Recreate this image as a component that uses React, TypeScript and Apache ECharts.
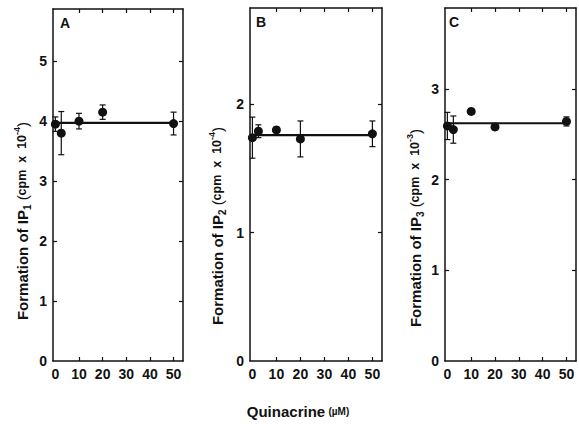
import React, { useEffect, useRef } from "react";
import * as echarts from "echarts";

const concentrations = [0, 2.5, 10, 20, 50];
const xTicks = [0, 10, 20, 30, 40, 50];

const ip1Values = [3.95, 3.8, 4.0, 4.15, 3.96];
const ip1Errors = [0.12, 0.36, 0.13, 0.12, 0.19];
const ip1Fit = 3.97;
const ip1Ticks = [0, 1, 2, 3, 4, 5];

const ip2Values = [1.74, 1.79, 1.8, 1.73, 1.77];
const ip2Errors = [0.16, 0.05, 0.02, 0.14, 0.1];
const ip2Fit = 1.76;
const ip2Ticks = [0, 1, 2];

const ip3Values = [2.59, 2.55, 2.75, 2.58, 2.64];
const ip3Errors = [0.15, 0.15, 0.03, 0.03, 0.05];
const ip3Fit = 2.62;
const ip3Ticks = [0, 1, 2, 3];

const panels = [
  { letter: "A", sub: "1", exp: "-4", values: ip1Values, errors: ip1Errors, fit: ip1Fit, ticks: ip1Ticks, yMax: 5.87,
    grid: { left: 53, top: 9, width: 130, height: 352 }, letterPos: [60, 23], titlePos: [22, 221] },
  { letter: "B", sub: "2", exp: "-4", values: ip2Values, errors: ip2Errors, fit: ip2Fit, ticks: ip2Ticks, yMax: 2.75,
    grid: { left: 250, top: 8, width: 132, height: 353 }, letterPos: [256, 22], titlePos: [217, 226] },
  { letter: "C", sub: "3", exp: "-3", values: ip3Values, errors: ip3Errors, fit: ip3Fit, ticks: ip3Ticks, yMax: 3.89,
    grid: { left: 445, top: 8, width: 131, height: 353 }, letterPos: [449, 22], titlePos: [415, 228] },
];

const FONT = "'Liberation Sans', Arial, Helvetica, sans-serif";
const INK = "#111";

export default function App() {
  const ref = useRef<HTMLDivElement>(null);
  useEffect(() => {
    if (!ref.current) return;
    const chart = echarts.init(ref.current, null, { renderer: "svg" });
    const grids: any[] = [];
    const xAxes: any[] = [];
    const yAxes: any[] = [];
    const series: any[] = [];
    const graphics: any[] = [];

    panels.forEach((p, i) => {
      grids.push({ ...p.grid, show: false, containLabel: false });
      const xCommon = {
        type: "value", gridIndex: i, min: -1, max: 54,
        splitLine: { show: false },
        axisLine: { show: true, onZero: false, lineStyle: { color: INK, width: 1.5 } },
        axisTick: { show: true, inside: true, length: 4, customValues: xTicks.filter((t) => t > 0), lineStyle: { color: INK, width: 1.2 } },
      };
      xAxes.push({
        ...xCommon, position: "bottom",
        axisLabel: { show: true, customValues: xTicks, margin: 6, fontSize: 14, fontWeight: "bold", color: INK, fontFamily: FONT },
      });
      xAxes.push({ ...xCommon, position: "top", axisLabel: { show: false } });
      const yCommon = {
        type: "value", gridIndex: i, min: 0, max: p.yMax,
        splitLine: { show: false },
        axisLine: { show: true, onZero: false, lineStyle: { color: INK, width: 1.5 } },
        axisTick: { show: true, inside: true, length: 4, customValues: p.ticks.filter((t) => t > 0), lineStyle: { color: INK, width: 1.2 } },
      };
      yAxes.push({
        ...yCommon, position: "left",
        axisLabel: { show: true, customValues: p.ticks, margin: 6, fontSize: 14, fontWeight: "bold", color: INK, fontFamily: FONT },
      });
      yAxes.push({ ...yCommon, position: "right", axisLabel: { show: false } });

      const xi = i * 2;
      const yi = i * 2;
      series.push({
        type: "line", xAxisIndex: xi, yAxisIndex: yi, symbol: "none", silent: true,
        data: [[concentrations[0], p.fit], [concentrations[concentrations.length - 1], p.fit]],
        lineStyle: { color: INK, width: 2.2 }, z: 2,
      });
      series.push({
        type: "custom", xAxisIndex: xi, yAxisIndex: yi, silent: true, z: 3,
        data: concentrations.map((c, k) => [c, p.values[k], p.errors[k]]),
        encode: { x: 0, y: 1 },
        renderItem: (params: any, api: any) => {
          const x = api.value(0), y = api.value(1), e = api.value(2);
          const top = api.coord([x, y + e]);
          const bot = api.coord([x, y - e]);
          const hw = 3;
          const st = { stroke: INK, lineWidth: 1.2 };
          return {
            type: "group",
            children: [
              { type: "line", shape: { x1: top[0], y1: top[1], x2: bot[0], y2: bot[1] }, style: st },
              { type: "line", shape: { x1: top[0] - hw, y1: top[1], x2: top[0] + hw, y2: top[1] }, style: st },
              { type: "line", shape: { x1: bot[0] - hw, y1: bot[1], x2: bot[0] + hw, y2: bot[1] }, style: st },
            ],
          };
        },
      });
      series.push({
        type: "scatter", xAxisIndex: xi, yAxisIndex: yi, symbol: "circle", symbolSize: 9, silent: true, z: 4,
        itemStyle: { color: INK, opacity: 1 },
        data: concentrations.map((c, k) => [c, p.values[k]]),
      });

      graphics.push({
        type: "text", x: p.letterPos[0], y: p.letterPos[1],
        style: { text: p.letter, fill: INK, font: `bold 14px ${FONT}`, align: "left", verticalAlign: "middle" },
      });
      graphics.push({
        type: "text", x: p.titlePos[0], y: p.titlePos[1], rotation: Math.PI / 2,
        style: {
          text: `{m|Formation of IP}{s|${p.sub}}{p| (}{u|cpm  x  10}{e|${p.exp}}{p|)}`,
          fill: INK, align: "center", verticalAlign: "middle",
          rich: {
            m: { font: `bold 15px ${FONT}`, fill: INK, lineHeight: 20, verticalAlign: "middle" },
            s: { font: `bold 10px ${FONT}`, fill: INK, lineHeight: 10, verticalAlign: "bottom" },
            p: { font: `15px ${FONT}`, fill: INK, lineHeight: 20, verticalAlign: "middle" },
            u: { font: `bold 12.5px ${FONT}`, fill: INK, lineHeight: 20, verticalAlign: "middle" },
            e: { font: `bold 9px ${FONT}`, fill: INK, lineHeight: 12, verticalAlign: "top" },
          },
        },
      });
    });

    graphics.push({
      type: "text", x: 298, y: 411,
      style: {
        text: "{q|Quinacrine} {u|(µM)}",
        fill: INK, align: "center", verticalAlign: "middle",
        rich: {
          q: { font: `bold 15px ${FONT}`, fill: INK, lineHeight: 20, verticalAlign: "middle" },
          u: { font: `bold 10px ${FONT}`, fill: INK, lineHeight: 20, verticalAlign: "middle" },
        },
      },
    });

    chart.setOption({
      animation: false,
      backgroundColor: "#fff",
      grid: grids,
      xAxis: xAxes,
      yAxis: yAxes,
      series,
      graphic: graphics,
    });
    return () => chart.dispose();
  }, []);
  return <div ref={ref} style={{ position: "fixed", left: 0, top: 0, width: 579, height: 431 }} />;
}
